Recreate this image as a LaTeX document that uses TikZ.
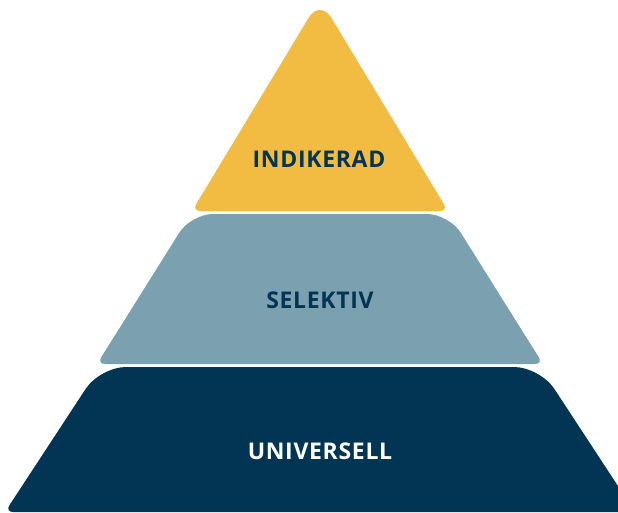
\documentclass[tikz,border=0pt]{standalone}
\usepackage{fontspec}
\usepackage{tikz}
\newfontfamily\tierfont[LetterSpace=3]{Open Sans}
\definecolor{gold}{HTML}{F2BC42}
\definecolor{steel}{HTML}{7BA1B1}
\definecolor{navy}{HTML}{023453}
\tikzset{
  tierlab/.style={font=\tierfont\bfseries\fontsize{23}{27}\selectfont, inner sep=0pt},
  tiergold/.style={fill=gold},
  tiersteel/.style={fill=steel},
  tiernavy/.style={fill=navy}
}
\begin{document}
\begin{tikzpicture}[x=1pt,y=-1pt]
  \useasboundingbox (0,0) rectangle (618,512);
  \clip (0,0) rectangle (618,512);
  % top tier (mid points on the sides switch the corner radius)
  \fill[tiergold] (320,211) [rounded corners=8pt] -- (192,211) -- (256,105)
    [rounded corners=22pt] -- (320,-1) -- (384,105) [rounded corners=8pt] -- (448,211) -- cycle;
  % middle tier
  \fill[tiersteel] (320,364) [rounded corners=8pt] -- (97,364) -- (144,289)
    [rounded corners=22pt] -- (191,214) -- (449,214) -- (496,289) [rounded corners=8pt] -- (543,364) -- cycle;
  % bottom tier
  \fill[tiernavy] (320,512) [rounded corners=8pt] -- (5,512) -- (52.5,439.5)
    [rounded corners=26pt] -- (100,367) -- (540,367) -- (587.5,439.5) [rounded corners=8pt] -- (635,512) -- cycle;
  \node[tierlab, text=navy] (indikerad) at (319,159) {INDIKERAD};
  \node[tierlab, text=navy] (selektiv) at (320,300) {SELEKTIV};
  \node[tierlab, text=white] (universell) at (320,451) {UNIVERSELL};
\end{tikzpicture}
\end{document}
